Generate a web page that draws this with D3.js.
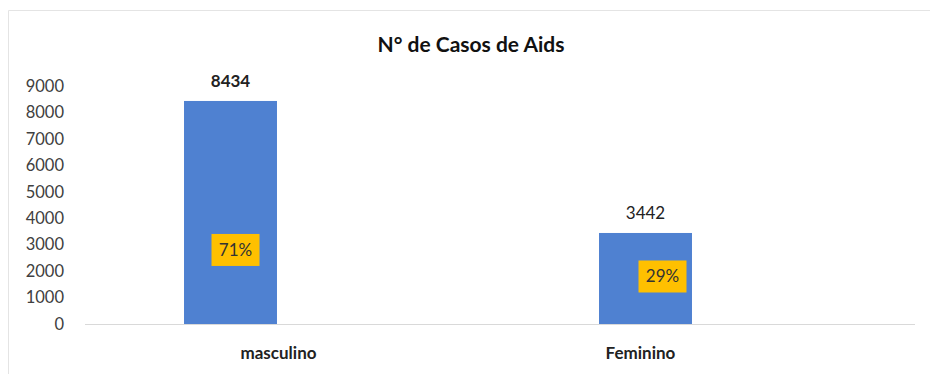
<!DOCTYPE html>
<html><head><meta charset="utf-8">
<script src="https://cdn.jsdelivr.net/npm/d3@7"></script>
<style>body{margin:0;background:#fff}svg{display:block}</style>
</head><body>
<svg id="c" width="930" height="374"></svg>
<script>
const categories = ["masculino", "Feminino"];
const values = [8434, 3442];
const percents = ["71%", "29%"];
const yTicks = [0,1000,2000,3000,4000,5000,6000,7000,8000,9000];
const title = "N° de Casos de Aids";

const svg = d3.select("#c");
const font = "Lato, 'Open Sans', sans-serif";

// frame
svg.append("path").attr("d","M8.5,374 V10.5 H930").attr("fill","none").attr("stroke","#e4e4e4");

const y = d3.scaleLinear().domain([0,9000]).range([324,86]);
const x = d3.scaleBand().domain(categories).range([23,853]).padding(0);
const bw = x.bandwidth()*0.224;

// baseline
svg.append("line").attr("x1",85).attr("x2",915).attr("y1",y(0)+0.5).attr("y2",y(0)+0.5)
  .attr("stroke","#d9d9d9").attr("stroke-width",1);

// y axis labels
const yAxis = d3.axisLeft(y).tickValues(yTicks).tickFormat(d3.format("d")).tickSize(0).tickPadding(0);
const ga = svg.append("g").attr("transform","translate(64,0)").call(yAxis);
ga.select(".domain").remove();
ga.selectAll("text").attr("font-family",font).attr("font-size",16.5).attr("fill","#404040");

// bars
svg.selectAll("rect.bar").data(values).enter().append("rect")
  .attr("x",(d,i)=>x(categories[i])+x.bandwidth()/2-bw/2)
  .attr("y",d=>y(d)).attr("width",bw).attr("height",d=>y(0)-y(d))
  .attr("fill","#4F81D1");

// value labels
svg.selectAll("text.val").data(values).enter().append("text")
  .attr("x",(d,i)=>x(categories[i])+x.bandwidth()/2)
  .attr("y",d=>y(d)-14)
  .attr("text-anchor","middle").attr("font-family",font).attr("font-size",17)
  .attr("font-weight",(d,i)=>i===0?"bold":"normal").attr("fill","#222")
  .text(d=>d);

// percentage labels
const pDx = [5,17];
const pFrac = [0.332,0.522];
percents.forEach((p,i)=>{
  const cx = x(categories[i])+x.bandwidth()/2 + pDx[i];
  const cy = y(values[i]*pFrac[i]);
  const g = svg.append("g");
  g.append("rect").attr("x",cx-24).attr("y",cy-16).attr("width",48).attr("height",32).attr("fill","#FFC000");
  g.append("text").attr("x",cx).attr("y",cy+6).attr("text-anchor","middle")
    .attr("font-family",font).attr("font-size",17).attr("fill","#333").text(p);
});

// category labels
const catOff = [48,-5];
svg.selectAll("text.cat").data(categories).enter().append("text")
  .attr("x",(d,i)=>x(d)+x.bandwidth()/2+catOff[i]).attr("y",359)
  .attr("text-anchor","middle").attr("font-family",font).attr("font-size",17)
  .attr("font-weight","bold").attr("fill","#222").text(d=>d);

// title
svg.append("text").attr("x",471).attr("y",52).attr("text-anchor","middle")
  .attr("font-family",font).attr("font-size",21).attr("font-weight","bold").attr("fill","#111").text(title);
</script>
</body></html>
